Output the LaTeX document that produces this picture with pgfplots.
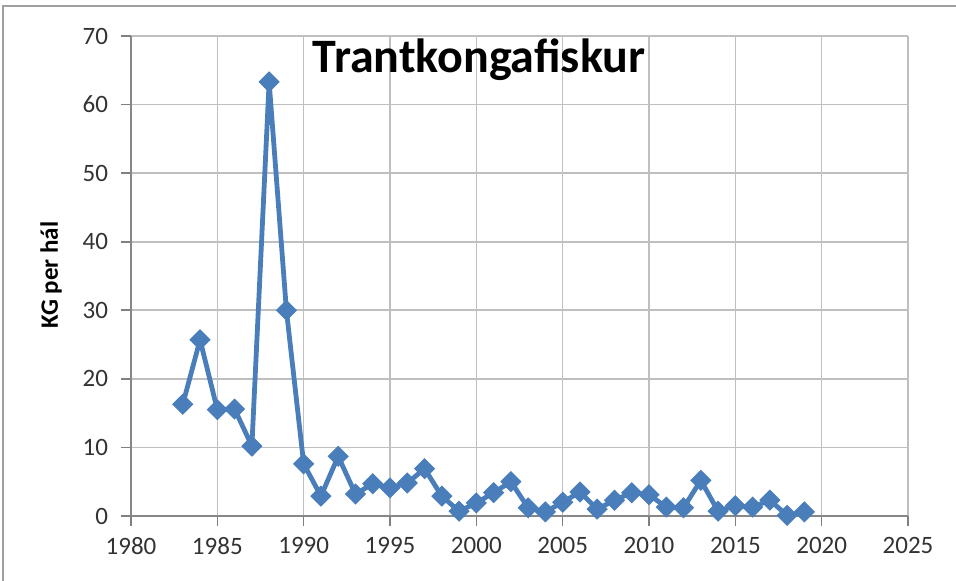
\documentclass[border=0pt]{standalone}
\usepackage{fontspec}
\setmainfont{Carlito}
\usepackage{pgfplots}
\pgfplotsset{compat=1.18}
\definecolor{serie}{HTML}{4A7EBB}
\definecolor{grid}{HTML}{878787}
\definecolor{ticktext}{HTML}{333333}

\begin{document}
\begin{tikzpicture}
\useasboundingbox (0,0) rectangle (478pt,290.5pt);
% frame, only top and left edges show in the crop
\draw[grid!80, line width=1.2pt] (1.5pt,-5pt) -- (1.5pt,287.5pt) -- (490pt,287.5pt);
\begin{axis}[
  at={(65.5pt,32.5pt)}, anchor=south west,
  scale only axis, width=388.5pt, height=240pt,
  xmin=1980, xmax=2025, ymin=0, ymax=70,
  xtick={1980,1985,...,2025}, ytick={0,10,...,70},
  axis x line*=bottom, axis y line*=left,
  axis line style={grid, line width=0.8pt, -},
  ymajorgrids, grid style={grid, line width=0.8pt},
  tick style={grid, line width=0.8pt},
  tick align=outside, major tick length=5pt,
  xticklabel style={/pgf/number format/1000 sep={}},
  tick label style={font=\fontsize{12.5}{14}\selectfont, text=ticktext},
  /pgf/number format/assume math mode=true,
  xticklabel style={yshift=-2pt},
  yticklabel style={xshift=-3pt},
  clip=false,
]
\addplot[serie, line width=2.4pt, mark=square*, mark size=3.5pt,
  mark options={rotate=45, fill=serie, draw=serie, line width=0.5pt}]
  coordinates {
  (1983,16.3) (1984,25.7) (1985,15.5) (1986,15.6) (1987,10.2) (1988,63.3)
  (1989,30.0) (1990,7.6) (1991,2.9) (1992,8.7) (1993,3.2) (1994,4.7)
  (1995,4.1) (1996,4.8) (1997,6.9) (1998,2.9) (1999,0.7) (2000,1.9)
  (2001,3.4) (2002,5.0) (2003,1.2) (2004,0.6) (2005,2.0) (2006,3.5)
  (2007,1.0) (2008,2.3) (2009,3.4) (2010,3.1) (2011,1.3) (2012,1.2)
  (2013,5.2) (2014,0.7) (2015,1.5) (2016,1.3) (2017,2.3) (2018,0.1)
  (2019,0.6)};
\end{axis}
\node[anchor=base, font=\bfseries\fontsize{24}{28}\selectfont] at (239.5pt,254pt) {Trantkongafiskur};
\node[rotate=90, font=\bfseries\fontsize{12.5}{14}\selectfont] at (25.5pt,153pt) {KG per hál};
\end{tikzpicture}
\end{document}
